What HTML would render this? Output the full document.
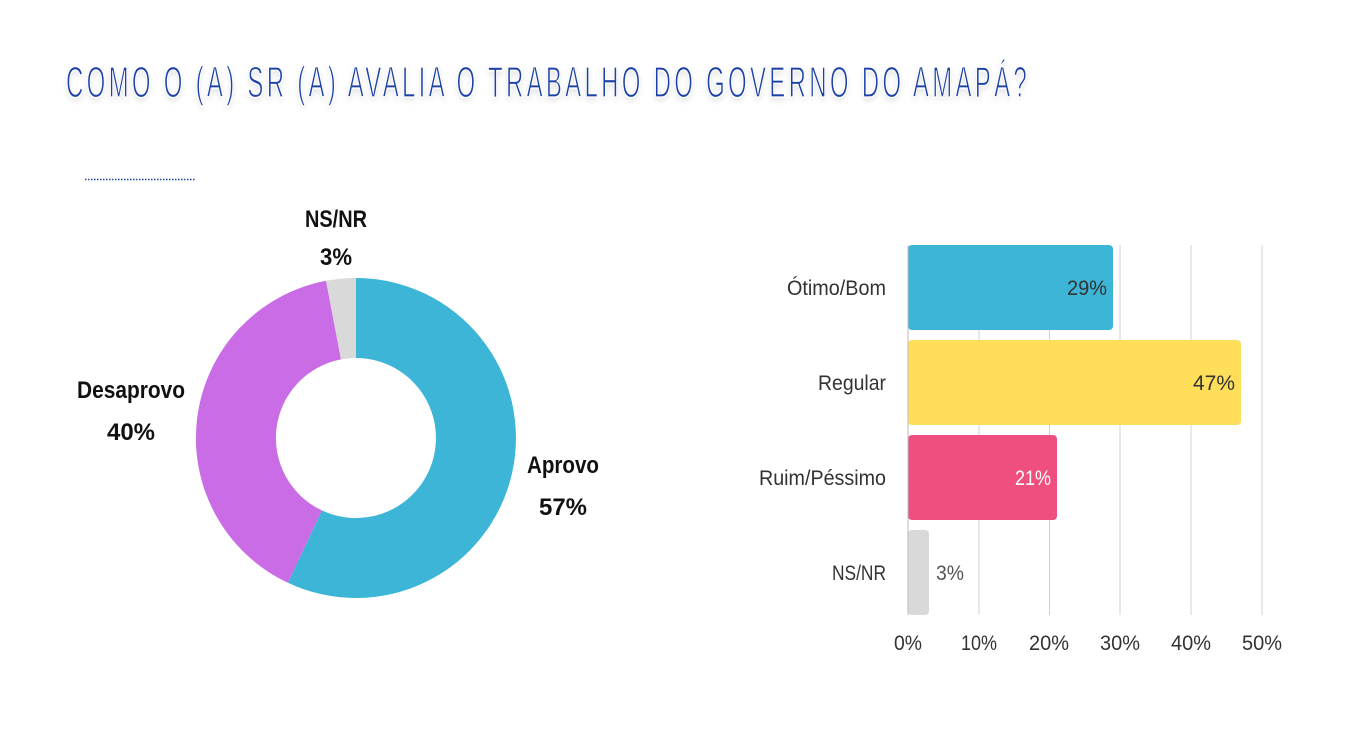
<!DOCTYPE html>
<html><head><meta charset="utf-8"><style>
html,body{margin:0;padding:0;background:#fff;width:1365px;height:737px;overflow:hidden}
svg text{font-family:"Liberation Sans",sans-serif}
</style></head><body>
<svg width="1365" height="737" viewBox="0 0 1365 737" xmlns="http://www.w3.org/2000/svg">
<defs><filter id="sh" x="-5%" y="-30%" width="110%" height="160%"><feGaussianBlur in="SourceAlpha" stdDeviation="3"/><feOffset dy="3"/><feComponentTransfer><feFuncA type="linear" slope="0.12"/></feComponentTransfer><feMerge><feMergeNode/><feMergeNode in="SourceGraphic"/></feMerge></filter></defs>
<text x="66" y="97" font-size="44" letter-spacing="6" fill="#1e43a6" stroke="#fff" stroke-width="1.2" textLength="964" lengthAdjust="spacingAndGlyphs" filter="url(#sh)">COMO O (A) SR (A) AVALIA O TRABALHO DO GOVERNO DO AMAPÁ?</text>
<line x1="85" y1="179.5" x2="195" y2="179.5" stroke="#1e43a6" stroke-width="1.5" stroke-dasharray="1.5 1.5"/>
<path d="M356 278 A160 160 0 1 1 287.9 582.8 L321.9 510.4 A80 80 0 1 0 356 358 Z" fill="#3db5d6"/>
<path d="M287.9 582.8 A160 160 0 0 1 326 280.8 L341 359.4 A80 80 0 0 0 321.9 510.4 Z" fill="#c96ce6"/>
<path d="M326 280.8 A160 160 0 0 1 356 278 L356 358 A80 80 0 0 0 341 359.4 Z" fill="#d9d9d9"/>
<g font-size="24" font-weight="bold" fill="#111" text-anchor="middle">
<text x="336" y="227" textLength="62" lengthAdjust="spacingAndGlyphs">NS/NR</text>
<text x="336" y="265" textLength="32" lengthAdjust="spacingAndGlyphs">3%</text>
<text x="131" y="398" textLength="108" lengthAdjust="spacingAndGlyphs">Desaprovo</text>
<text x="131" y="440" textLength="48" lengthAdjust="spacingAndGlyphs">40%</text>
<text x="563" y="473" textLength="72" lengthAdjust="spacingAndGlyphs">Aprovo</text>
<text x="563" y="515" textLength="48" lengthAdjust="spacingAndGlyphs">57%</text>
</g>
<g stroke="#d0d0d0" stroke-width="1">
<line x1="979" y1="245" x2="979" y2="615"/><line x1="1049.5" y1="245" x2="1049.5" y2="615"/><line x1="1120" y1="245" x2="1120" y2="615"/><line x1="1191" y1="245" x2="1191" y2="615"/><line x1="1262" y1="245" x2="1262" y2="615"/>
</g>
<rect x="908" y="245" width="205" height="85" rx="4" fill="#3db5d6"/>
<rect x="908" y="340" width="333" height="85" rx="4" fill="#ffde59"/>
<rect x="908" y="435" width="149" height="85" rx="4" fill="#ef4f7f"/>
<rect x="908" y="530" width="21" height="85" rx="4" fill="#d9d9d9"/>
<line x1="908" y1="245" x2="908" y2="615" stroke="#bbb"/>
<g font-size="21" fill="#333" text-anchor="end">
<text x="886" y="295" textLength="99" lengthAdjust="spacingAndGlyphs">Ótimo/Bom</text>
<text x="886" y="390" textLength="68" lengthAdjust="spacingAndGlyphs">Regular</text>
<text x="886" y="485" textLength="127" lengthAdjust="spacingAndGlyphs">Ruim/Péssimo</text>
<text x="886" y="580" textLength="54" lengthAdjust="spacingAndGlyphs">NS/NR</text>
<text x="1107" y="295" textLength="40" lengthAdjust="spacingAndGlyphs">29%</text>
<text x="1235" y="390" textLength="42" lengthAdjust="spacingAndGlyphs">47%</text>
<text x="1051" y="485" fill="#fff" textLength="36" lengthAdjust="spacingAndGlyphs">21%</text>
<text x="964" y="580" fill="#555" textLength="28" lengthAdjust="spacingAndGlyphs">3%</text>
</g>
<g font-size="21" fill="#333" text-anchor="middle">
<text x="908" y="650" textLength="28" lengthAdjust="spacingAndGlyphs">0%</text><text x="979" y="650" textLength="36" lengthAdjust="spacingAndGlyphs">10%</text><text x="1049" y="650" textLength="40" lengthAdjust="spacingAndGlyphs">20%</text><text x="1120" y="650" textLength="40" lengthAdjust="spacingAndGlyphs">30%</text><text x="1191" y="650" textLength="40" lengthAdjust="spacingAndGlyphs">40%</text><text x="1262" y="650" textLength="40" lengthAdjust="spacingAndGlyphs">50%</text>
</g>
</svg>
</body></html>
